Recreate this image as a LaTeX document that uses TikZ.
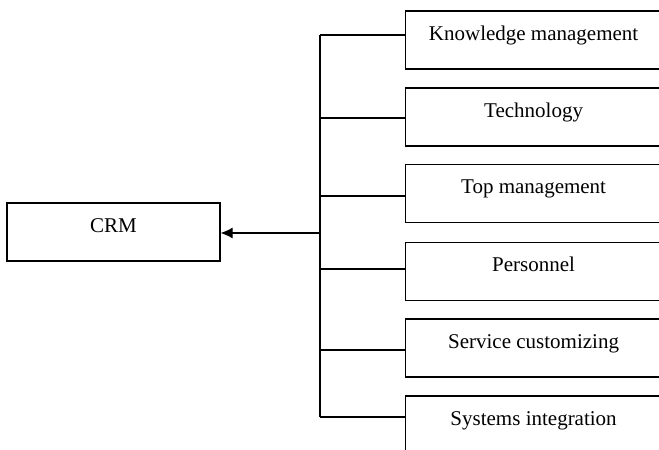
\documentclass[tikz,border=0pt]{standalone}
\usepackage{fontspec}
\setmainfont{Liberation Serif}
\usetikzlibrary{arrows.meta}

\begin{document}
\begin{tikzpicture}[x=1pt,y=-1pt,line width=1.2pt,
  factor/.style={draw,inner sep=0pt,minimum width=256pt,minimum height=58pt,
    text height=29pt,text depth=29pt,font=\fontsize{21}{25}\selectfont},
  crmbox/.style={factor,minimum width=213pt}]
\clip (0,0) rectangle (659,450);

\node[crmbox] (crm) at (113.5,232) {CRM};

\node[factor,anchor=west] (k1) at (405,40) {Knowledge management};
\node[factor,anchor=west] (k2) at (405,117) {Technology};
\node[factor,anchor=west] (k3) at (405,193.5) {Top management};
\node[factor,anchor=west] (k4) at (405,271.5) {Personnel};
\node[factor,anchor=west] (k5) at (405,348) {Service customizing};
\node[factor,anchor=west] (k6) at (405,425) {Systems integration};

% bus and branches
\coordinate (b1) at (320,35);
\coordinate (b2) at (320,118);
\coordinate (b3) at (320,196);
\coordinate (b4) at (320,269);
\coordinate (b5) at (320,350);
\coordinate (b6) at (320,417);
\coordinate (hub) at (320,233);
\draw (b1) -- (b6);
\draw (b1) -- (b1 -| k1.west);
\draw (b2) -- (b2 -| k2.west);
\draw (b3) -- (b3 -| k3.west);
\draw (b4) -- (b4 -| k4.west);
\draw (b5) -- (b5 -| k5.west);
\draw (b6) -- (b6 -| k6.west);
\draw[-{Latex[length=12pt,width=11pt]}] (hub) -- (hub -| crm.east);
\end{tikzpicture}
\end{document}
